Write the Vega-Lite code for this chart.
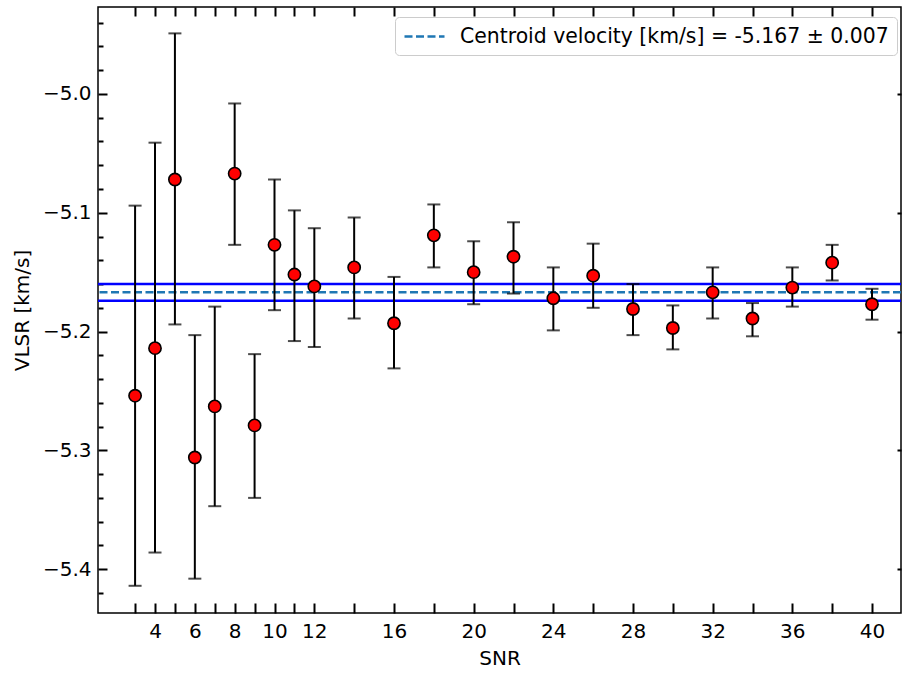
{
  "$schema": "https://vega.github.io/schema/vega-lite/v6.json",
  "width": 803,
  "height": 606,
  "autosize": "none",
  "padding": {"left": 98, "top": 7, "right": 1, "bottom": 60},
  "background": "white",
  "datasets": {
    "pts": [
      {"snr": 3, "v": -5.254, "lo": -5.414, "hi": -5.094},
      {"snr": 4, "v": -5.214, "lo": -5.386, "hi": -5.041},
      {"snr": 5, "v": -5.072, "lo": -5.194, "hi": -4.949},
      {"snr": 6, "v": -5.306, "lo": -5.408, "hi": -5.203},
      {"snr": 7, "v": -5.263, "lo": -5.347, "hi": -5.179},
      {"snr": 8, "v": -5.067, "lo": -5.127, "hi": -5.008},
      {"snr": 9, "v": -5.279, "lo": -5.340, "hi": -5.219},
      {"snr": 10, "v": -5.127, "lo": -5.182, "hi": -5.072},
      {"snr": 11, "v": -5.152, "lo": -5.208, "hi": -5.098},
      {"snr": 12, "v": -5.162, "lo": -5.213, "hi": -5.113},
      {"snr": 14, "v": -5.146, "lo": -5.189, "hi": -5.104},
      {"snr": 16, "v": -5.193, "lo": -5.231, "hi": -5.154},
      {"snr": 18, "v": -5.119, "lo": -5.146, "hi": -5.093},
      {"snr": 20, "v": -5.150, "lo": -5.177, "hi": -5.124},
      {"snr": 22, "v": -5.137, "lo": -5.168, "hi": -5.108},
      {"snr": 24, "v": -5.172, "lo": -5.199, "hi": -5.146},
      {"snr": 26, "v": -5.153, "lo": -5.180, "hi": -5.126},
      {"snr": 28, "v": -5.181, "lo": -5.203, "hi": -5.160},
      {"snr": 30, "v": -5.197, "lo": -5.215, "hi": -5.178},
      {"snr": 32, "v": -5.167, "lo": -5.189, "hi": -5.146},
      {"snr": 34, "v": -5.189, "lo": -5.204, "hi": -5.176},
      {"snr": 36, "v": -5.163, "lo": -5.179, "hi": -5.146},
      {"snr": 38, "v": -5.142, "lo": -5.157, "hi": -5.127},
      {"snr": 40, "v": -5.177, "lo": -5.190, "hi": -5.164}
    ],
    "bounds": [{"v": -5.160}, {"v": -5.174}],
    "centroid": [{"v": -5.167, "label": "Centroid velocity [km/s] = -5.167 ± 0.007"}]
  },
  "resolve": {"axis": {"x": "independent", "y": "independent"}},
  "layer": [
    {
      "data": {"name": "bounds"},
      "mark": {"type": "rule", "color": "#0000ff", "strokeWidth": 2.5},
      "encoding": {
        "y": {"field": "v", "type": "quantitative", "scale": {"domain": [-5.4369, -4.9268], "nice": false, "zero": false}, "axis": null}
      }
    },
    {
      "data": {"name": "centroid"},
      "mark": {"type": "rule", "strokeWidth": 2.5, "strokeDash": [8, 3.5]},
      "encoding": {
        "y": {"field": "v", "type": "quantitative", "axis": null},
        "color": {
          "field": "label", "type": "nominal",
          "scale": {"range": ["#1f77b4"]},
          "legend": {
            "title": null, "orient": "none", "legendX": 297, "legendY": 10,
            "symbolType": "M-2,0H2", "symbolSize": 400, "symbolStrokeWidth": 2.5,
            "symbolDash": [8, 3.5], "symbolOffset": 10, "symbolFillColor": "transparent",
            "labelFontSize": 20.4, "labelFont": "DejaVu Sans",
            "labelColor": "black", "labelOffset": 24, "padding": 8,
            "strokeColor": "#cccccc", "fillColor": "white", "cornerRadius": 4,
            "labelLimit": 600
          }
        }
      }
    },
    {
      "data": {"name": "pts"},
      "mark": {"type": "rule", "color": "black", "strokeWidth": 2},
      "encoding": {
        "x": {
          "field": "snr", "type": "quantitative",
          "scale": {"domain": [1.138, 41.456], "nice": false, "zero": false},
          "axis": {
            "orient": "bottom", "title": "SNR",
            "values": [3,4,5,6,7,8,9,10,11,12,14,16,18,20,22,24,26,28,30,32,34,36,38,40],
            "labelExpr": "indexof([4,6,8,10,12,16,20,24,28,32,36,40], datum.value) >= 0 ? datum.label : ''",
            "tickSize": -10, "labelPadding": 18, "titlePadding": 7, "labelFlush": false
          }
        },
        "y": {
          "field": "lo", "type": "quantitative",
          "axis": {
            "orient": "left", "title": "VLSR [km/s]",
            "values": [-5.0, -5.1, -5.2, -5.3, -5.4],
            "labelExpr": "replace(format(datum.value, '.1f'), '-', '−')",
            "tickSize": -9, "labelPadding": 16, "titlePadding": 10
          }
        },
        "y2": {"field": "hi"}
      }
    },
    {
      "data": {"name": "pts"},
      "mark": {"type": "tick", "orient": "horizontal", "color": "black", "size": 13, "thickness": 2},
      "encoding": {
        "x": {"field": "snr", "type": "quantitative", "axis": null},
        "y": {
          "field": "lo", "type": "quantitative",
          "axis": {
            "orient": "right", "title": null, "labels": false,
            "values": [-5.0, -5.1, -5.2, -5.3, -5.4], "tickSize": -4
          }
        }
      }
    },
    {
      "data": {"name": "pts"},
      "mark": {"type": "tick", "orient": "horizontal", "color": "black", "size": 13, "thickness": 2},
      "encoding": {
        "x": {"field": "snr", "type": "quantitative", "axis": null},
        "y": {"field": "hi", "type": "quantitative", "axis": null}
      }
    },
    {
      "data": {"name": "pts"},
      "mark": {"type": "point", "filled": true, "fill": "#ff0000", "stroke": "black", "strokeWidth": 1.6, "size": 150, "opacity": 1, "shape": "circle"},
      "encoding": {
        "x": {
          "field": "snr", "type": "quantitative",
          "axis": {
            "orient": "top", "title": null, "labels": false,
            "values": [3,4,5,6,7,8,9,10,11,12,14,16,18,20,22,24,26,28,30,32,34,36,38,40],
            "tickSize": -9
          }
        },
        "y": {
          "field": "v", "type": "quantitative",
          "axis": {
            "orient": "left", "title": null, "labels": false,
            "values": [-4.94,-4.96,-4.98,-5.02,-5.04,-5.06,-5.08,-5.12,-5.14,-5.16,-5.18,-5.22,-5.24,-5.26,-5.28,-5.32,-5.34,-5.36,-5.38,-5.42],
            "tickSize": -5
          }
        }
      }
    }
  ],
  "config": {
    "font": "DejaVu Sans",
    "view": {"stroke": "black", "strokeWidth": 1.5},
    "axis": {
      "grid": false, "domain": false, "tickColor": "black", "tickWidth": 2,
      "labelColor": "black", "titleColor": "black", "labelFont": "DejaVu Sans",
      "titleFont": "DejaVu Sans", "labelFontSize": 20, "titleFontSize": 20,
      "titleFontWeight": "normal"
    }
  }
}
